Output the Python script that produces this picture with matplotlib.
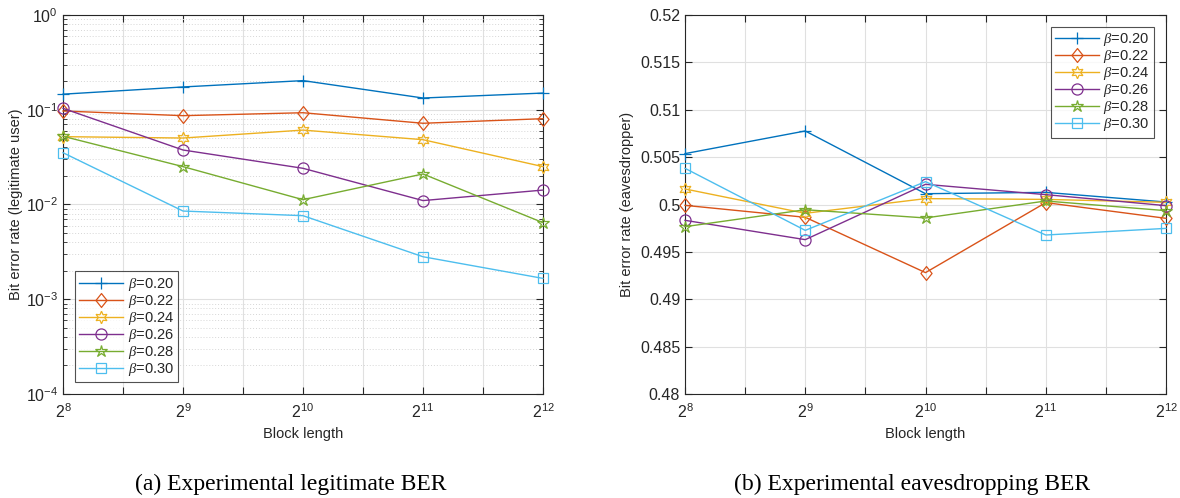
import matplotlib
matplotlib.use("Agg")
import matplotlib.pyplot as plt
from matplotlib.ticker import LogLocator, NullFormatter, FixedLocator
from matplotlib.path import Path

plt.rcParams['font.family'] = ['Liberation Sans', 'DejaVu Sans']
plt.rcParams['mathtext.fontset'] = 'custom'
plt.rcParams['mathtext.it'] = 'Liberation Serif:italic'
plt.rcParams['mathtext.rm'] = 'Liberation Sans'

block_exp = [8, 9, 10, 11, 12]
betas = ["0.20", "0.22", "0.24", "0.26", "0.28", "0.30"]

legit_ber = [
    [0.146, 0.174, 0.203, 0.133, 0.150],
    [0.097, 0.0866, 0.093, 0.072, 0.0805],
    [0.052, 0.0503, 0.061, 0.0483, 0.0251],
    [0.1035, 0.0376, 0.0241, 0.0110, 0.0142],
    [0.0525, 0.0251, 0.01124, 0.0210, 0.00643],
    [0.0352, 0.00853, 0.00762, 0.00281, 0.00166],
]

eve_ber = [
    [0.50537, 0.50776, 0.50114, 0.50128, 0.50026],
    [0.49991, 0.49865, 0.49281, 0.50020, 0.49854],
    [0.50164, 0.49907, 0.50062, 0.50054, 0.50023],
    [0.49833, 0.49629, 0.50213, 0.50104, 0.49988],
    [0.49766, 0.49945, 0.49858, 0.50037, 0.49935],
    [0.50382, 0.49727, 0.50241, 0.49678, 0.49748],
]

colors = [(0, 0.447, 0.741), (0.85, 0.325, 0.098), (0.929, 0.694, 0.125),
          (0.494, 0.184, 0.556), (0.466, 0.674, 0.188), (0.301, 0.745, 0.933)]
diamond = Path([(0, 1), (0.8, 0), (0, -1), (-0.8, 0), (0, 1)],
               [Path.MOVETO, Path.LINETO, Path.LINETO, Path.LINETO, Path.CLOSEPOLY])
markers = ['+', diamond, (6, 1, 0), 'o', '*', 's']
msizes = [9, 10, 9, 8, 9, 7]

fig = plt.figure(figsize=(11.8, 4.98), dpi=100)
ax1 = fig.add_axes([63/1180, 1-394/498, 480/1180, 379/498])
ax2 = fig.add_axes([685/1180, 1-394/498, 481/1180, 379/498])

spine_c = (0.15, 0.15, 0.15)
grid_c = (0.88, 0.88, 0.88)
xt = [8, 8.5, 9, 9.5, 10, 10.5, 11, 11.5, 12]
xtl = ['$\\mathregular{2^{8}}$', '', '$\\mathregular{2^{9}}$', '',
       '$\\mathregular{2^{10}}$', '', '$\\mathregular{2^{11}}$', '',
       '$\\mathregular{2^{12}}$']

for ax, data in ((ax1, legit_ber), (ax2, eve_ber)):
    for i, b in enumerate(betas):
        ax.plot(block_exp, data[i], color=colors[i], marker=markers[i],
                markersize=msizes[i], markerfacecolor='none',
                markeredgecolor=colors[i], markeredgewidth=0.9, linewidth=1.0,
                label=r'$\beta$=' + b, clip_on=False, zorder=3)
    ax.set_xlim(8, 12)
    ax.xaxis.set_major_locator(FixedLocator(xt))
    ax.set_xticklabels(xtl)
    ax.set_xlabel('Block length', fontsize=10.5, color=spine_c, labelpad=4)
    for s in ax.spines.values():
        s.set_color(spine_c)
        s.set_linewidth(0.8)
    ax.tick_params(which='both', direction='in', top=True, right=True,
                   colors=spine_c, labelsize=11.5, labelcolor=spine_c)
    ax.tick_params(which='major', length=5)
    ax.tick_params(which='minor', length=3)
    ax.tick_params(axis='x', pad=6)
    ax.grid(True, which='major', color=grid_c, linewidth=0.8, linestyle='-')
    ax.set_axisbelow(True)

# left axis: log
ax1.set_yscale('log')
ax1.set_ylim(1e-4, 1)
ax1.set_yticks([1e-4, 1e-3, 1e-2, 1e-1, 1])
ax1.set_yticklabels(['$\\mathregular{10^{-4}}$', '$\\mathregular{10^{-3}}$',
                     '$\\mathregular{10^{-2}}$', '$\\mathregular{10^{-1}}$',
                     '$\\mathregular{10^{0}}$'])
ax1.yaxis.set_minor_locator(LogLocator(base=10, subs=range(2, 10), numticks=20))
ax1.yaxis.set_minor_formatter(NullFormatter())
ax1.grid(True, which='minor', axis='y', color=(0.84, 0.84, 0.84),
         linewidth=0.7, linestyle=(0, (1, 2)))
ax1.set_ylabel('Bit error rate (legitimate user)', fontsize=10.5, color=spine_c, labelpad=2)

# right axis
ax2.set_ylim(0.48, 0.52)
yt = [0.48, 0.485, 0.49, 0.495, 0.5, 0.505, 0.51, 0.515, 0.52]
ax2.set_yticks(yt)
ax2.set_yticklabels(['0.48', '0.485', '0.49', '0.495', '0.5', '0.505', '0.51', '0.515', '0.52'])
ax2.set_ylabel('Bit error rate (eavesdropper)', fontsize=10.5, color=spine_c, labelpad=4)

leg_kw = dict(fontsize=10.5, frameon=True, fancybox=False, borderpad=0.3,
              labelspacing=0.0, handlelength=3.0, handletextpad=0.3,
              borderaxespad=0.0)
l1 = ax1.legend(loc='lower left', bbox_to_anchor=((75-63)/480, (394-382)/379), **leg_kw)
l2 = ax2.legend(loc='upper right', bbox_to_anchor=((1154-685)/481, (394-27)/379), **leg_kw)
for l in (l1, l2):
    l.get_frame().set_edgecolor(spine_c)
    l.get_frame().set_linewidth(0.8)
    for t in l.get_texts():
        t.set_color(spine_c)

fig.text(291/1180, 1-484/498, '(a) Experimental legitimate BER', ha='center', va='center',
         fontsize=17, family='Liberation Serif')
fig.text(912/1180, 1-484/498, '(b) Experimental eavesdropping BER', ha='center', va='center',
         fontsize=17, family='Liberation Serif')

fig.savefig('out.png', dpi=100)
